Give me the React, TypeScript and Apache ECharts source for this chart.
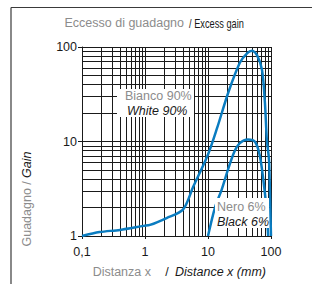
import React, { useEffect, useRef } from "react";
import * as echarts from "echarts";

// White 90% curve (distance mm, gain)
const whiteX = [0.1, 0.19, 0.4, 0.96, 1.2, 2.2, 4.0, 5.8, 10, 14, 21, 32, 42, 50, 60, 72, 80, 86, 93, 96, 100];
const whiteY = [1, 1.1, 1.16, 1.28, 1.31, 1.55, 1.9, 3.3, 7.3, 14, 33, 68, 86, 91, 82, 57, 26, 10.4, 6.4, 3.1, 1];
// Black 6% curve
const blackX = [10, 12.9, 16.5, 20.7, 26, 32, 43, 56, 67, 80, 86, 90];
const blackY = [1, 2.0, 3.1, 5.0, 7.7, 9.6, 10.5, 9.9, 6.9, 2.85, 1.7, 1];

const xTickLabels = ["0,1", "1", "10", "100"];
const xGridValues = [0.2, 0.3, 0.4, 0.5, 0.6, 0.7, 0.8, 0.9, 1, 2, 3, 4, 5, 6, 7, 8, 9, 10, 20, 30, 40, 50, 60, 70, 80, 90, 100];
const yGridValues = [2, 3, 4, 5, 6, 7, 8, 9, 10, 20, 30, 40, 50, 60, 70, 80, 90, 100];

const FONT = "'Liberation Sans', Arial, sans-serif";
const GRAY = "#8c8c8c";
const INK = "#1a1a1a";
const BLUE = "#0a7cc0";

export default function App() {
  const ref = useRef<HTMLDivElement>(null);
  useEffect(() => {
    if (!ref.current) return;
    const chart = echarts.init(ref.current, undefined, { renderer: "svg" });
    const toPairs = (xs: number[], ys: number[]) => xs.map((x, i) => [x, ys[i]]);
    chart.setOption({
      animation: false,
      backgroundColor: "#ffffff",
      grid: { left: 82, right: 41, top: 47, bottom: 48, containLabel: false },
      xAxis: {
        type: "log",
        logBase: 10,
        min: 0.1,
        max: 100,
        axisLine: { show: true, lineStyle: { color: INK, width: 1 } },
        axisTick: { show: true, length: 3, lineStyle: { color: INK } },
        splitLine: { show: false },
        axisLabel: {
          color: INK,
          fontFamily: FONT,
          fontSize: 12.5,
          margin: 9,
          formatter: (_v: number, i: number) => xTickLabels[i] ?? "",
        },
      },
      yAxis: {
        type: "log",
        logBase: 10,
        min: 1,
        max: 100,
        axisLine: { show: true, lineStyle: { color: INK, width: 1 } },
        axisTick: { show: true, length: 4, lineStyle: { color: INK } },
        splitLine: { show: false },
        axisLabel: { color: INK, fontFamily: FONT, fontSize: 12.5, margin: 5 },
      },
      series: [
        {
          type: "line",
          data: [[0.1, 1]],
          symbol: "none",
          lineStyle: { opacity: 0 },
          z: 1,
          silent: true,
          markLine: {
            silent: true,
            symbol: ["none", "none"],
            z: 1,
            animation: false,
            label: { show: false },
            lineStyle: { color: INK, width: 1, type: "solid" },
            data: [
              ...xGridValues.map((v) => ({ xAxis: v })),
              ...yGridValues.map((v) => ({ yAxis: v })),
            ],
          },
        },
        {
          name: "White 90%",
          type: "line",
          data: toPairs(whiteX, whiteY),
          symbol: "none",
          smooth: 0.3,
          z: 3,
          lineStyle: { color: BLUE, width: 2.5 },
        },
        {
          name: "Black 6%",
          type: "line",
          data: toPairs(blackX, blackY),
          symbol: "none",
          smooth: 0.3,
          z: 3,
          lineStyle: { color: BLUE, width: 2.5 },
        },
      ],
      graphic: [
        { type: "line", z: 100, shape: { x1: 11, y1: 7.5, x2: 312, y2: 7.5 }, style: { stroke: "#3a3a3a", lineWidth: 1.2 } },
        { type: "line", z: 100, shape: { x1: 11, y1: 7.5, x2: 11, y2: 284 }, style: { stroke: "#3a3a3a", lineWidth: 1.2 } },
        { type: "text", z: 100, x: 184, y: 23, style: { text: "Eccesso di guadagno", fill: GRAY, font: `12.5px ${FONT}`, align: "right", verticalAlign: "middle" } },
        { type: "text", z: 100, x: 189, y: 23, scaleX: 0.74, style: { text: "/ Excess gain", fill: INK, font: `12.5px ${FONT}`, align: "left", verticalAlign: "middle" } },
        { type: "text", z: 100, x: 151, y: 272, style: { text: "Distanza x", fill: GRAY, font: `12.5px ${FONT}`, align: "right", verticalAlign: "middle" } },
        { type: "text", z: 100, x: 167, y: 272, style: { text: "/", fill: INK, font: `12.5px ${FONT}`, align: "center", verticalAlign: "middle" } },
        { type: "text", z: 100, x: 175, y: 272, style: { text: "Distance x (mm)", fill: INK, font: `italic 12.5px ${FONT}`, align: "left", verticalAlign: "middle" } },
        {
          type: "text",
          z: 100,
          x: 27,
          y: 199,
          rotation: Math.PI / 2,
          style: {
            text: "{g|Guadagno /} {k|Gain}",
            align: "center",
            verticalAlign: "middle",
            rich: {
              g: { fill: GRAY, font: `12.5px ${FONT}` },
              k: { fill: INK, font: `italic 12.5px ${FONT}` },
            },
          },
        },
        { type: "rect", z: 100, shape: { x: 117, y: 89, width: 77, height: 28 }, style: { fill: "#ffffff" } },
        { type: "text", z: 101, x: 125, y: 96, style: { text: "Bianco 90%", fill: GRAY, font: `12.5px ${FONT}`, align: "left", verticalAlign: "middle" } },
        { type: "text", z: 101, x: 127, y: 110.5, style: { text: "White 90%", fill: INK, font: `italic 12.5px ${FONT}`, align: "left", verticalAlign: "middle" } },
        { type: "rect", z: 100, shape: { x: 215, y: 198, width: 54, height: 30 }, style: { fill: "#ffffff" } },
        { type: "text", z: 101, x: 217, y: 207, style: { text: "Nero 6%", fill: GRAY, font: `12.5px ${FONT}`, align: "left", verticalAlign: "middle" } },
        { type: "text", z: 101, x: 217, y: 221.5, style: { text: "Black 6%", fill: INK, font: `italic 12.5px ${FONT}`, align: "left", verticalAlign: "middle" } },
      ],
    });
    return () => chart.dispose();
  }, []);
  return <div ref={ref} style={{ position: "fixed", left: 0, top: 0, width: 312, height: 284 }} />;
}
